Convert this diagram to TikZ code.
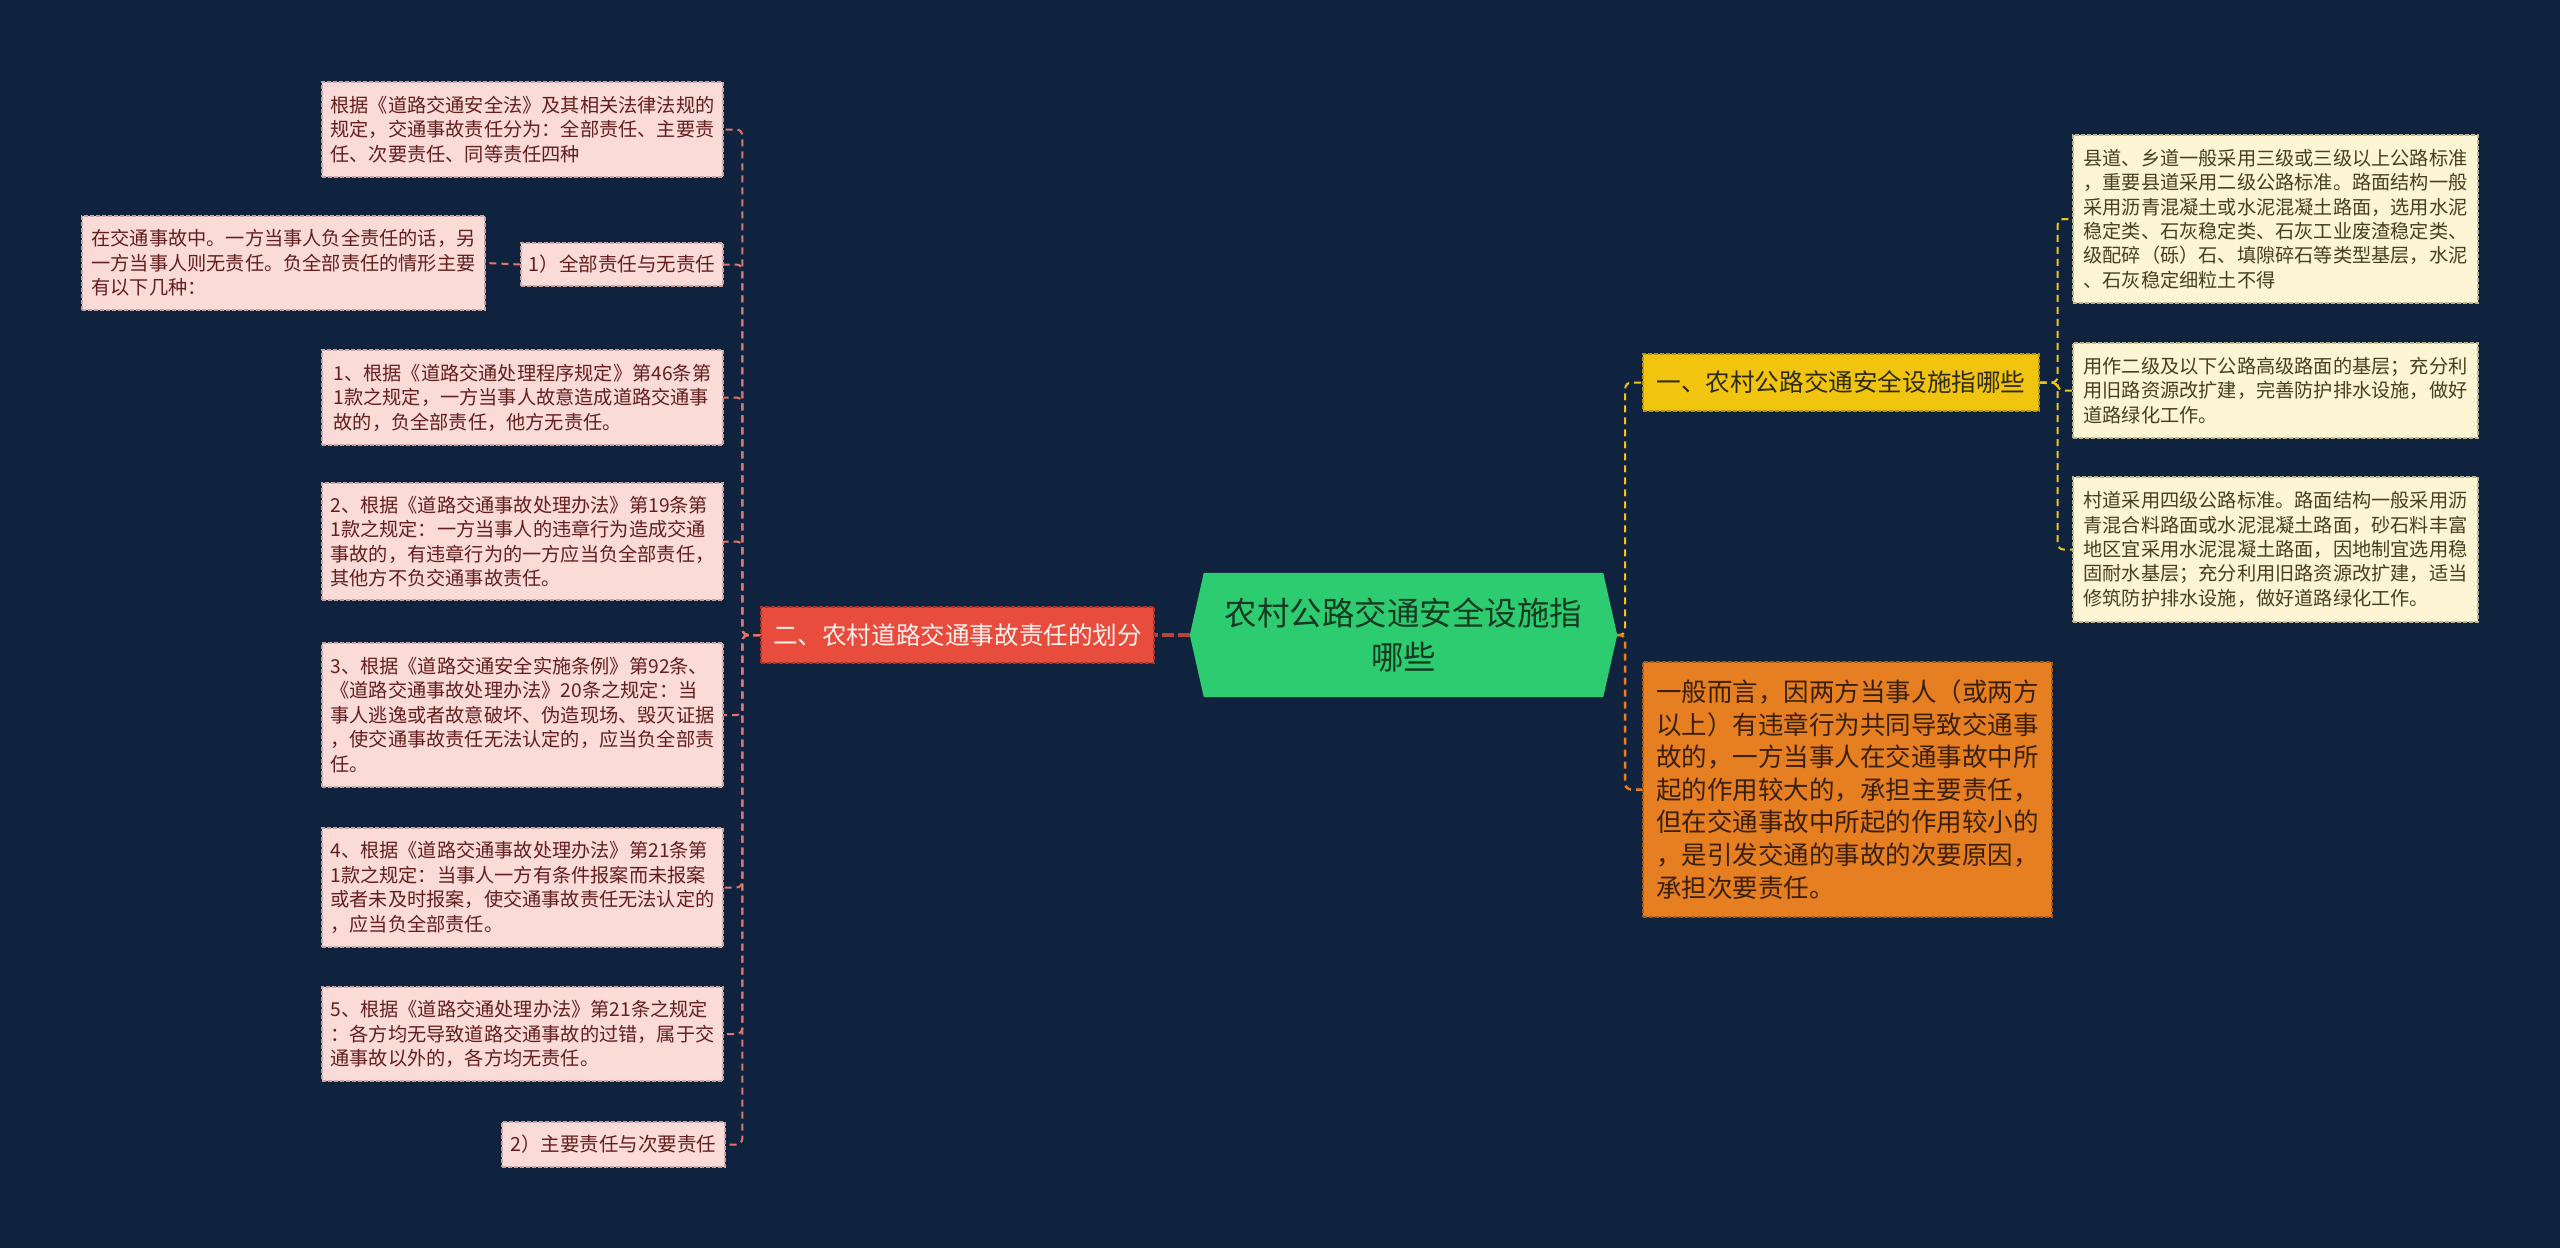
\documentclass[tikz,border=0pt]{standalone}
\usepackage{fontspec}
\newfontfamily\cjk{Noto Sans CJK SC}
\pgfdeclarelayer{bg}
\pgfsetlayers{bg,main}
\definecolor{bgc}{HTML}{0F233E}
\definecolor{pinkF}{HTML}{FADBD8}
\definecolor{pinkD}{HTML}{C9A3A0}
\definecolor{pinkT}{HTML}{641E1E}
\definecolor{creamF}{HTML}{FDF5D3}
\definecolor{creamD}{HTML}{BDB38C}
\definecolor{creamT}{HTML}{45401E}
\definecolor{yelF}{HTML}{F1C40F}
\definecolor{yelD}{HTML}{B8930C}
\definecolor{yelT}{HTML}{2E2A10}
\definecolor{oraF}{HTML}{E67E22}
\definecolor{oraD}{HTML}{A85A12}
\definecolor{oraT}{HTML}{3A2006}
\definecolor{redF}{HTML}{E74C3C}
\definecolor{redD}{HTML}{A8352A}
\definecolor{redT}{HTML}{FFF1EE}
\definecolor{grnF}{HTML}{2ECC71}
\definecolor{grnT}{HTML}{143A22}
\definecolor{lline}{HTML}{E2746A}
\definecolor{yline}{HTML}{F1C40F}
\definecolor{oline}{HTML}{E67E22}
\definecolor{rline}{HTML}{B5463D}
\tikzset{
  boxbase/.style={inner sep=0pt, align=left, line width=1.3pt, dash pattern=on 4pt off 2pt},
  leafL/.style={boxbase, fill=pinkF, draw=pinkD, text=pinkT, font=\cjk\fontsize{19.2pt}{24.5pt}\selectfont},
  leafR/.style={boxbase, fill=creamF, draw=creamD, text=creamT, font=\cjk\fontsize{19.2pt}{24.3pt}\selectfont},
  yelbox/.style={boxbase, fill=yelF, draw=yelD, text=yelT, font=\cjk\fontsize{24.6pt}{30pt}\selectfont},
  redbox/.style={boxbase, fill=redF, draw=redD, text=redT, font=\cjk\fontsize{24.6pt}{30pt}\selectfont},
  orabox/.style={boxbase, fill=oraF, draw=oraD, text=oraT, font=\cjk\fontsize{25.5pt}{32.6pt}\selectfont},
  centerbox/.style={inner sep=0pt, align=center, text=grnT, font=\cjk\fontsize{32.5pt}{44pt}\selectfont},
  lconn/.style={draw=lline, line width=2pt, dash pattern=on 7pt off 5pt, rounded corners=6pt},
  yconn/.style={draw=yline, line width=2pt, dash pattern=on 7pt off 5pt, rounded corners=6pt},
  oconn/.style={draw=oline, line width=2.5pt, dash pattern=on 7pt off 5pt, rounded corners=6pt},
  rconn/.style={draw=rline, line width=4pt, dash pattern=on 12pt off 4pt}
}
\begin{document}
\begin{tikzpicture}[x=1pt,y=-1pt]
\begin{pgfonlayer}{bg}
\fill[bgc] (0,0) rectangle (2560,1248);
\end{pgfonlayer}
\useasboundingbox (0,0) rectangle (2560,1248);

% center
\node[centerbox, minimum width=427pt, minimum height=124pt] (C) at (1403.5,635) {农村公路交通安全设施指\\哪些};
\begin{pgfonlayer}{bg}
\fill[grnF] ([xshift=14pt]C.north west) -- ([xshift=-14pt]C.north east) -- (C.east) -- ([xshift=-14pt]C.south east) -- ([xshift=14pt]C.south west) -- (C.west) -- cycle;
\end{pgfonlayer}

% left branch
\node[redbox, minimum width=393pt, minimum height=56pt] (RD) at (957.5,635) {二、农村道路交通事故责任的划分};

\node[leafL, minimum width=401pt, minimum height=95pt] (L0) at (522.5,129.5) {根据《道路交通安全法》及其相关法律法规的\\规定，交通事故责任分为：全部责任、主要责\\任、次要责任、同等责任四种};
\node[leafL, minimum width=202pt, minimum height=43pt, font=\cjk\fontsize{19.5pt}{24pt}\selectfont] (L1h) at (622,264.5) {1）全部责任与无责任};
\node[leafL, minimum width=403pt, minimum height=94pt] (L1c) at (283.5,263) {在交通事故中。一方当事人负全责任的话，另\\一方当事人则无责任。负全部责任的情形主要\\有以下几种：};
\node[leafL, minimum width=401pt, minimum height=95pt] (La) at (522.5,397.5) {1、根据《道路交通处理程序规定》第46条第\\1款之规定，一方当事人故意造成道路交通事\\故的，负全部责任，他方无责任。};
\node[leafL, minimum width=401pt, minimum height=117pt] (Lb) at (522.5,541.5) {2、根据《道路交通事故处理办法》第19条第\\1款之规定：一方当事人的违章行为造成交通\\事故的，有违章行为的一方应当负全部责任，\\其他方不负交通事故责任。};
\node[leafL, minimum width=401pt, minimum height=144pt] (Lc) at (522.5,715) {3、根据《道路交通安全实施条例》第92条、\\《道路交通事故处理办法》20条之规定：当\\事人逃逸或者故意破坏、伪造现场、毁灭证据\\，使交通事故责任无法认定的，应当负全部责\\任。};
\node[leafL, minimum width=401pt, minimum height=119pt] (Ld) at (522.5,887.5) {4、根据《道路交通事故处理办法》第21条第\\1款之规定：当事人一方有条件报案而未报案\\或者未及时报案，使交通事故责任无法认定的\\，应当负全部责任。};
\node[leafL, minimum width=401pt, minimum height=94pt] (Le) at (522.5,1034) {5、根据《道路交通处理办法》第21条之规定\\：各方均无导致道路交通事故的过错，属于交\\通事故以外的，各方均无责任。};
\node[leafL, minimum width=223pt, minimum height=45pt, font=\cjk\fontsize{19.5pt}{24pt}\selectfont] (L2h) at (613.5,1144.5) {2）主要责任与次要责任};

% right branch
\node[yelbox, minimum width=396pt, minimum height=57pt] (Y) at (1841,382.5) {一、农村公路交通安全设施指哪些};
\node[orabox, minimum width=409pt, minimum height=255pt] (O) at (1847.5,789.5) {一般而言，因两方当事人（或两方\\以上）有违章行为共同导致交通事\\故的，一方当事人在交通事故中所\\起的作用较大的，承担主要责任，\\但在交通事故中所起的作用较小的\\，是引发交通的事故的次要原因，\\承担次要责任。};
\node[leafR, minimum width=405pt, minimum height=168pt] (R1) at (2275.5,219) {县道、乡道一般采用三级或三级以上公路标准\\，重要县道采用二级公路标准。路面结构一般\\采用沥青混凝土或水泥混凝土路面，选用水泥\\稳定类、石灰稳定类、石灰工业废渣稳定类、\\级配碎（砾）石、填隙碎石等类型基层，水泥\\、石灰稳定细粒土不得};
\node[leafR, minimum width=405pt, minimum height=95pt] (R2) at (2275.5,390.5) {用作二级及以下公路高级路面的基层；充分利\\用旧路资源改扩建，完善防护排水设施，做好\\道路绿化工作。};
\node[leafR, minimum width=405pt, minimum height=145pt] (R3) at (2275.5,549.5) {村道采用四级公路标准。路面结构一般采用沥\\青混合料路面或水泥混凝土路面，砂石料丰富\\地区宜采用水泥混凝土路面，因地制宜选用稳\\固耐水基层；充分利用旧路资源改扩建，适当\\修筑防护排水设施，做好道路绿化工作。};

% connectors
\begin{pgfonlayer}{bg}
\draw[rconn] (C.west) -- (RD.east);
\foreach \n in {L0,L1h,La,Lb,Lc,Ld,Le,L2h}{
  \draw[lconn] (RD.west) -- ++(-18,0) |- (\n.east);
}
\draw[lconn] (L1h.west) -- (L1c.east);
\draw[yconn] (C.east) -- ++(8,0) |- (Y.west);
\draw[oconn] (C.east) -- ++(8,0) |- (O.west);
\foreach \n in {R1,R2,R3}{
  \draw[yconn] (Y.east) -- ++(18,0) |- (\n.west);
}
\end{pgfonlayer}
\end{tikzpicture}
\end{document}
